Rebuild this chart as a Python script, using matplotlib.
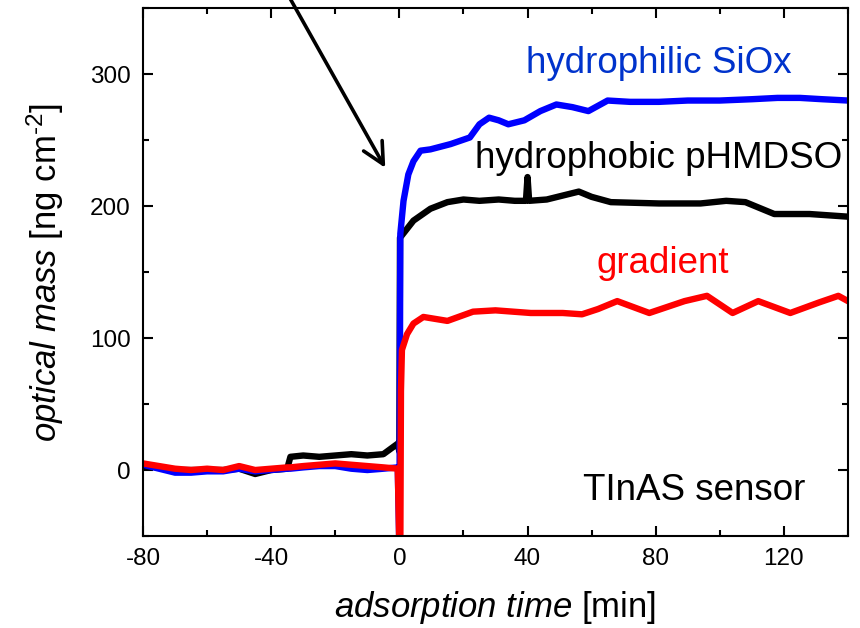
import matplotlib
matplotlib.use('Agg')
import matplotlib.pyplot as plt
from matplotlib.ticker import MultipleLocator

plt.rcParams['font.family'] = ['Liberation Sans', 'DejaVu Sans']
plt.rcParams['mathtext.fontset'] = 'custom'
plt.rcParams['mathtext.rm'] = 'Liberation Sans'
plt.rcParams['mathtext.it'] = 'Liberation Sans:italic'
plt.rcParams['axes.unicode_minus'] = False

# Werte (Zeit in min, optische Masse in ng/cm^2)
t_pre = [-80, -75, -70, -65, -60, -55, -50, -45, -40, -35, -34, -30, -25, -20, -15, -10, -5, -0.5]
blue_pre = [4, 1, -2, -2, -1, -1, 1, -1, 0, 1, 1, 2, 3, 3, 1, 0, 1, 2]
red_pre = [5, 3, 1, 0, 1, 0, 3, 0, 1, 2, 2, 3, 4, 5, 4, 3, 2, 1]
black_pre = [3, 2, 0, 0, 0, 0, 1, -3, 0, 1, 10, 11, 10, 11, 12, 11, 12, 20]

t_blue = [0, 0.3, 1.3, 2.8, 4.4, 6.6, 9.7, 16, 22, 25, 28, 31, 34, 39, 44, 49, 54, 59,
          65, 72, 81, 90, 100, 110, 118, 125, 132, 140]
blue = [-60, 179, 204, 224, 234, 242, 243, 247, 252, 262, 267, 265, 262, 265, 272, 277, 275, 272,
        280, 279, 279, 280, 280, 281, 282, 282, 281, 280]

t_black = [0, 0.2, 4.4, 9.7, 15, 20, 25, 31, 36, 39.5, 40, 40.5, 46, 51, 56, 60, 66, 81,
           94, 102, 108, 113, 117, 128, 140]
black = [14, 176, 189, 198, 203, 205, 204, 205, 204, 204, 222, 204, 205, 208, 211, 207, 203, 202,
         202, 204, 203, 198, 194, 194, 192]

t_red = [0, 0.3, 0.5, 0.8, 2.4, 4.4, 7.5, 15, 23, 30, 41, 51, 57, 62, 68, 78, 89, 96,
         104, 112, 122, 131, 137, 140]
red = [-60, -60, 60, 91, 103, 111, 116, 113, 120, 121, 119, 119, 118, 122, 128, 119, 128, 132,
       119, 128, 119, 127, 132, 128]

fig = plt.figure(figsize=(8.6, 6.28), dpi=100)
ax = fig.add_axes([0.1663, 0.1465, 0.8197, 0.8405])

lw = 4.6
ax.plot(t_pre + t_black, black_pre + black, color='black', lw=lw, solid_joinstyle='round')
ax.plot(t_pre + t_blue, blue_pre + blue, color='#0000ff', lw=lw, solid_joinstyle='round')
ax.plot(t_pre + t_red, red_pre + red, color='#ff0000', lw=lw, solid_joinstyle='round')

ax.set_xlim(-80, 140)
ax.set_ylim(-50, 350)
ax.xaxis.set_major_locator(MultipleLocator(40))
ax.xaxis.set_minor_locator(MultipleLocator(20))
ax.yaxis.set_major_locator(MultipleLocator(100))
ax.yaxis.set_minor_locator(MultipleLocator(50))
ax.tick_params(which='both', direction='in', top=True, right=True, width=1.5)
ax.tick_params(which='major', length=7.5, labelsize=17.5, pad=9)
ax.tick_params(which='minor', length=4)
for s in ax.spines.values():
    s.set_linewidth(1.5)

ax.set_xlabel(r'$\it{adsorption\ time}$ [min]', fontsize=25, labelpad=13)
ax.set_ylabel(r'$\it{optical\ mass}$ [ng $\mathrm{cm}^{\text{-}2}$]', fontsize=25, labelpad=17)

ax.text(39.4, 301, 'hydrophilic SiOx', color='#0033cc', fontsize=26.5)
ax.text(23.7, 229, 'hydrophobic pHMDSO', color='black', fontsize=26.5)
ax.text(61.6, 149, 'gradient', color='#ff0000', fontsize=26.5)
ax.text(57.2, -22.7, 'TInAS sensor', color='black', fontsize=26.5)

ax.annotate('', xy=(-4.4, 229), xytext=(-37.5, 372), annotation_clip=False,
            arrowprops=dict(arrowstyle='->,head_length=0.9,head_width=0.45',
                            color='black', lw=2.6, mutation_scale=17, shrinkA=0, shrinkB=0))

fig.savefig('out.png', dpi=100)
